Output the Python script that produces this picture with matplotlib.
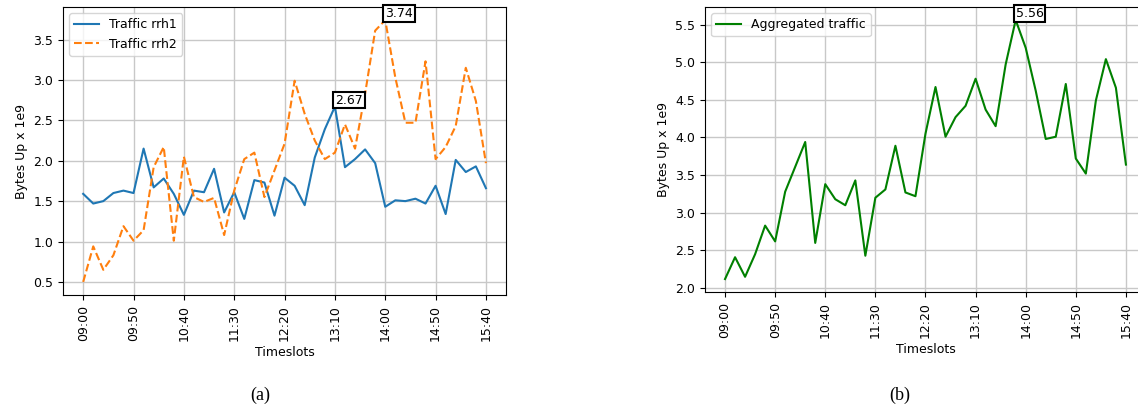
import matplotlib
matplotlib.use("Agg")
import matplotlib.pyplot as plt

# ---- data (in 1e9 bytes) ----
timeslots = ["%02d:%02d" % divmod(9 * 60 + 10 * i, 60) for i in range(41)]

traffic_rrh1 = [1.59, 1.47, 1.50, 1.60, 1.63, 1.60, 2.15, 1.67, 1.78, 1.59,
                1.33, 1.63, 1.61, 1.90, 1.36, 1.61, 1.28, 1.76, 1.73, 1.32,
                1.79, 1.69, 1.45, 2.04, 2.39, 2.67, 1.92, 2.02, 2.14, 1.97,
                1.43, 1.51, 1.50, 1.53, 1.47, 1.69, 1.34, 2.01, 1.86, 1.93,
                1.66]

traffic_rrh2 = [0.50, 0.94, 0.65, 0.83, 1.19, 1.01, 1.14, 1.92, 2.17, 1.01,
                2.05, 1.55, 1.49, 1.54, 1.08, 1.63, 2.02, 2.10, 1.55, 1.88,
                2.21, 2.99, 2.58, 2.25, 2.02, 2.10, 2.45, 2.15, 2.83, 3.61,
                3.74, 3.03, 2.47, 2.47, 3.23, 2.02, 2.17, 2.43, 3.15, 2.74,
                1.97]

aggregated = [2.12, 2.41, 2.15, 2.45, 2.83, 2.62, 3.28, 3.61, 3.94, 2.60,
              3.38, 3.18, 3.10, 3.43, 2.43, 3.20, 3.31, 3.89, 3.27, 3.22,
              4.05, 4.67, 4.01, 4.27, 4.42, 4.78, 4.37, 4.15, 4.97, 5.56,
              5.19, 4.62, 3.98, 4.01, 4.71, 3.72, 3.52, 4.49, 5.04, 4.66,
              3.64]

tick_labels = timeslots[::5]

plt.rcParams["font.family"] = "DejaVu Sans"
plt.rcParams["font.size"] = 9

fig = plt.figure(figsize=(11.38, 4.11), dpi=100)
ax1 = fig.add_axes([0.0554, 0.2822, 0.3893, 0.7007])
ax2 = fig.add_axes([0.6195, 0.2895, 0.3875, 0.6934])

box = dict(boxstyle="square,pad=0.15", fc="white", ec="black", lw=1.5)


def mark_max(ax, values):
    i = max(range(len(values)), key=lambda k: values[k])
    ax.annotate("%.2f" % values[i], (timeslots[i], values[i]),
                ha="left", va="bottom", fontsize=9, bbox=box, zorder=5)


# ---- (a) per rrh ----
ax1.plot(timeslots, traffic_rrh1, color="#1f77b4", lw=1.5, label="Traffic rrh1")
ax1.plot(timeslots, traffic_rrh2, color="#ff7f0e", lw=1.5, ls="--", label="Traffic rrh2")
mark_max(ax1, traffic_rrh1)
mark_max(ax1, traffic_rrh2)
ax1.legend(loc="upper left")

# ---- (b) aggregated ----
ax2.plot(timeslots, aggregated, color="green", lw=1.5, label="Aggregated traffic")
mark_max(ax2, aggregated)
ax2.legend(loc="upper left")

for ax in (ax1, ax2):
    ax.set_xticks(tick_labels)
    ax.tick_params(axis="x", labelrotation=90)
    ax.set_xlabel("Timeslots")
    ax.set_ylabel("Bytes Up x 1e9")
    ax.grid(True, color="#c8c8c8", lw=1)
    ax.set_axisbelow(True)

fig.text(260 / 1138, 1 - 395 / 411, "(a)", family="Liberation Serif",
         fontsize=13, ha="center", va="center")
fig.text(900 / 1138, 1 - 395 / 411, "(b)", family="Liberation Serif",
         fontsize=13, ha="center", va="center")

fig.savefig("out.png", dpi=100)
